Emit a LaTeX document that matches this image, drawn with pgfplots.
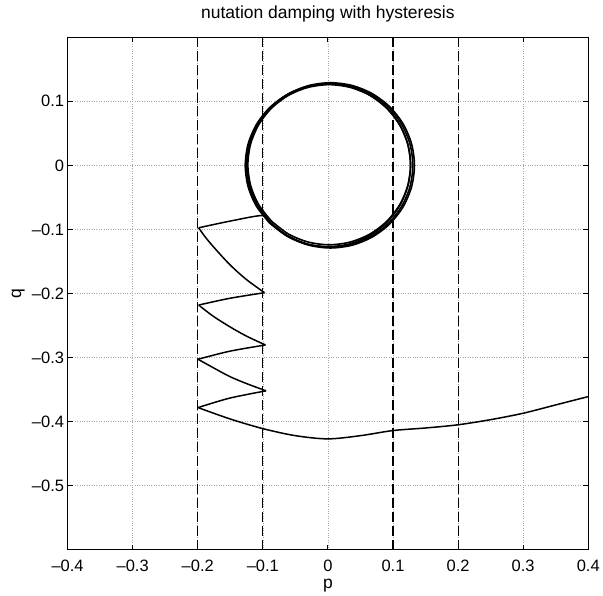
\documentclass[border=0pt]{standalone}
\usepackage{pgfplots}
\pgfplotsset{compat=1.18}
\usepackage{fontspec}
\setmainfont{Liberation Sans}
\begin{document}
\begin{tikzpicture}
\begin{axis}[
  scale only axis, width=521.6pt, height=513.4pt,
  xmin=-0.4, xmax=0.4, ymin=-0.6, ymax=0.2,
  xtick={-0.4,-0.3,-0.2,-0.1,0,0.1,0.2,0.3,0.4},
  xticklabels={--0.4,--0.3,--0.2,--0.1,0,0.1,0.2,0.3,0.4},
  ytick={-0.5,-0.4,-0.3,-0.2,-0.1,0,0.1},
  yticklabels={--0.5,--0.4,--0.3,--0.2,--0.1,0,0.1},
  tick align=inside, tick pos=both, major tick length=5pt,
  grid=major,
  major grid style={dotted, gray!70, line width=0.6pt},
  axis line style={line width=1.2pt},
  every tick/.style={black, line width=0.9pt},
  tick label style={font=\fontsize{16.5}{18}\selectfont},
  xticklabel style={anchor=base, yshift=-21.6pt},
  title={nutation damping with hysteresis},
  title style={font=\fontsize{17.5}{18}\selectfont, at={(axis description cs:0.5,1)}, anchor=base, yshift=13pt},
  xlabel={p},
  xlabel style={font=\fontsize{17.5}{18}\selectfont, at={(axis description cs:0.5,0)}, anchor=base, yshift=-39pt},
  ylabel={q},
  ylabel style={font=\fontsize{17.5}{18}\selectfont, at={(axis description cs:-0.0948,0.5)}, anchor=center},
]
\coordinate (sw) at (rel axis cs:0,0);
\coordinate (ne) at (rel axis cs:1,1);
% switching lines
\addplot[black, line width=1.1pt, dash pattern=on 10pt off 4pt] coordinates {(-0.2,-0.6) (-0.2,0.2)};
\addplot[black, line width=1.1pt, dash pattern=on 10pt off 4pt] coordinates {(-0.1,-0.6) (-0.1,0.2)};
\addplot[black, line width=1.1pt, dash pattern=on 10pt off 4pt] coordinates {(0.1,-0.6) (0.1,0.2)};
\addplot[black, line width=1.1pt, dash pattern=on 10pt off 4pt] coordinates {(0.2,-0.6) (0.2,0.2)};
% trajectory: bottom arc
\addplot[black, line width=1.5pt, smooth] coordinates {
(0.4,-0.361) (0.35,-0.374) (0.3,-0.387) (0.25,-0.397) (0.2,-0.405) (0.15,-0.410) (0.1,-0.414)
(0.05,-0.422) (0,-0.427) (-0.05,-0.422) (-0.1,-0.411) (-0.15,-0.396) (-0.2,-0.378)};
% zigzag
\addplot[black, line width=1.5pt, smooth] coordinates {(-0.199,-0.378) (-0.151,-0.3634) (-0.095,-0.352)};
\addplot[black, line width=1.5pt, smooth] coordinates {(-0.095,-0.352) (-0.1255,-0.3405) (-0.151,-0.3296) (-0.1767,-0.3156) (-0.1996,-0.3027)};
\addplot[black, line width=1.5pt, smooth] coordinates {(-0.1996,-0.3027) (-0.151,-0.2902) (-0.096,-0.2804)};
\addplot[black, line width=1.5pt, smooth] coordinates {(-0.096,-0.2804) (-0.1255,-0.2664) (-0.151,-0.2518) (-0.1767,-0.2352) (-0.1986,-0.2181)};
\addplot[black, line width=1.5pt, smooth] coordinates {(-0.1986,-0.2181) (-0.151,-0.2076) (-0.0974,-0.1988)};
\addplot[black, line width=1.5pt, smooth] coordinates {(-0.0974,-0.1988) (-0.1255,-0.178) (-0.151,-0.1547) (-0.1767,-0.1262) (-0.1894,-0.1106) (-0.1986,-0.0975)};
\addplot[black, line width=1.5pt, smooth] coordinates {(-0.1986,-0.0975) (-0.151,-0.0872) (-0.1,-0.0783) (-0.0898,-0.0898)};
% limit cycle loops
\addplot[black, line width=1.6pt, smooth] coordinates {
(-0.0898,-0.0898) (-0.0635,-0.1100) (-0.0329,-0.1227) (0,-0.127) (0.0329,-0.1227) (0.0635,-0.1100)
(0.0898,-0.0898) (0.1100,-0.0635) (0.1227,-0.0329) (0.127,0) (0.1227,0.0329) (0.1100,0.0635)
(0.0898,0.0898) (0.0635,0.1100) (0.0329,0.1227) (0,0.127) (-0.0329,0.1227) (-0.0635,0.1100)
(-0.0898,0.0898) (-0.1100,0.0635) (-0.1227,0.0329) (-0.127,0) (-0.1227,-0.0329) (-0.1100,-0.0635)
(-0.0898,-0.0898)};
\addplot[black, line width=1.6pt, smooth] coordinates {
(-0.0872,-0.0902) (-0.0608,-0.1104) (-0.0300,-0.1232) (0.003,-0.1275) (0.036,-0.1232) (0.0668,-0.1104)
(0.0932,-0.0902) (0.1134,-0.0638) (0.1262,-0.0330) (0.1305,0) (0.1262,0.0330) (0.1134,0.0638)
(0.0932,0.0902) (0.0668,0.1104) (0.036,0.1232) (0.003,0.1275) (-0.030,0.1232) (-0.0608,0.1104)
(-0.0872,0.0902) (-0.1074,0.0638) (-0.1202,0.0330) (-0.1245,0) (-0.1202,-0.0330) (-0.1074,-0.0638)
(-0.0872,-0.0902)};
\addplot[black, line width=1.6pt, smooth] coordinates {
(-0.0872,-0.0912) (-0.0605,-0.1117) (-0.0294,-0.1246) (0.004,-0.129) (0.0374,-0.1246) (0.0685,-0.1117)
(0.0952,-0.0912) (0.1157,-0.0645) (0.1286,-0.0334) (0.133,0) (0.1286,0.0334) (0.1157,0.0645)
(0.0952,0.0912) (0.0685,0.1117) (0.0374,0.1246) (0.004,0.129) (-0.0294,0.1246) (-0.0605,0.1117)
(-0.0872,0.0912) (-0.1077,0.0645) (-0.1206,0.0334) (-0.125,0) (-0.1206,-0.0334) (-0.1077,-0.0645)
(-0.0872,-0.0912)};
\addplot[black, line width=1.6pt, smooth] coordinates {
(-0.0864,-0.0874) (-0.0605,-0.1073) (-0.0304,-0.1197) (0.002,-0.124) (0.0344,-0.1197) (0.0645,-0.1073)
(0.0904,-0.0874) (0.1103,-0.0615) (0.1227,-0.0314) (0.127,0.001) (0.1227,0.0334) (0.1103,0.0635)
(0.0904,0.0894) (0.0645,0.1093) (0.0344,0.1217) (0.002,0.126) (-0.0304,0.1217) (-0.0605,0.1093)
(-0.0864,0.0894) (-0.1063,0.0635) (-0.1187,0.0334) (-0.123,0.001) (-0.1187,-0.0314) (-0.1063,-0.0615)
(-0.0864,-0.0874)};
\end{axis}
\path ([shift={(-67.7pt,-45.3pt)}]sw) rectangle ([shift={(13.7pt,37.3pt)}]ne);
\end{tikzpicture}
\end{document}
